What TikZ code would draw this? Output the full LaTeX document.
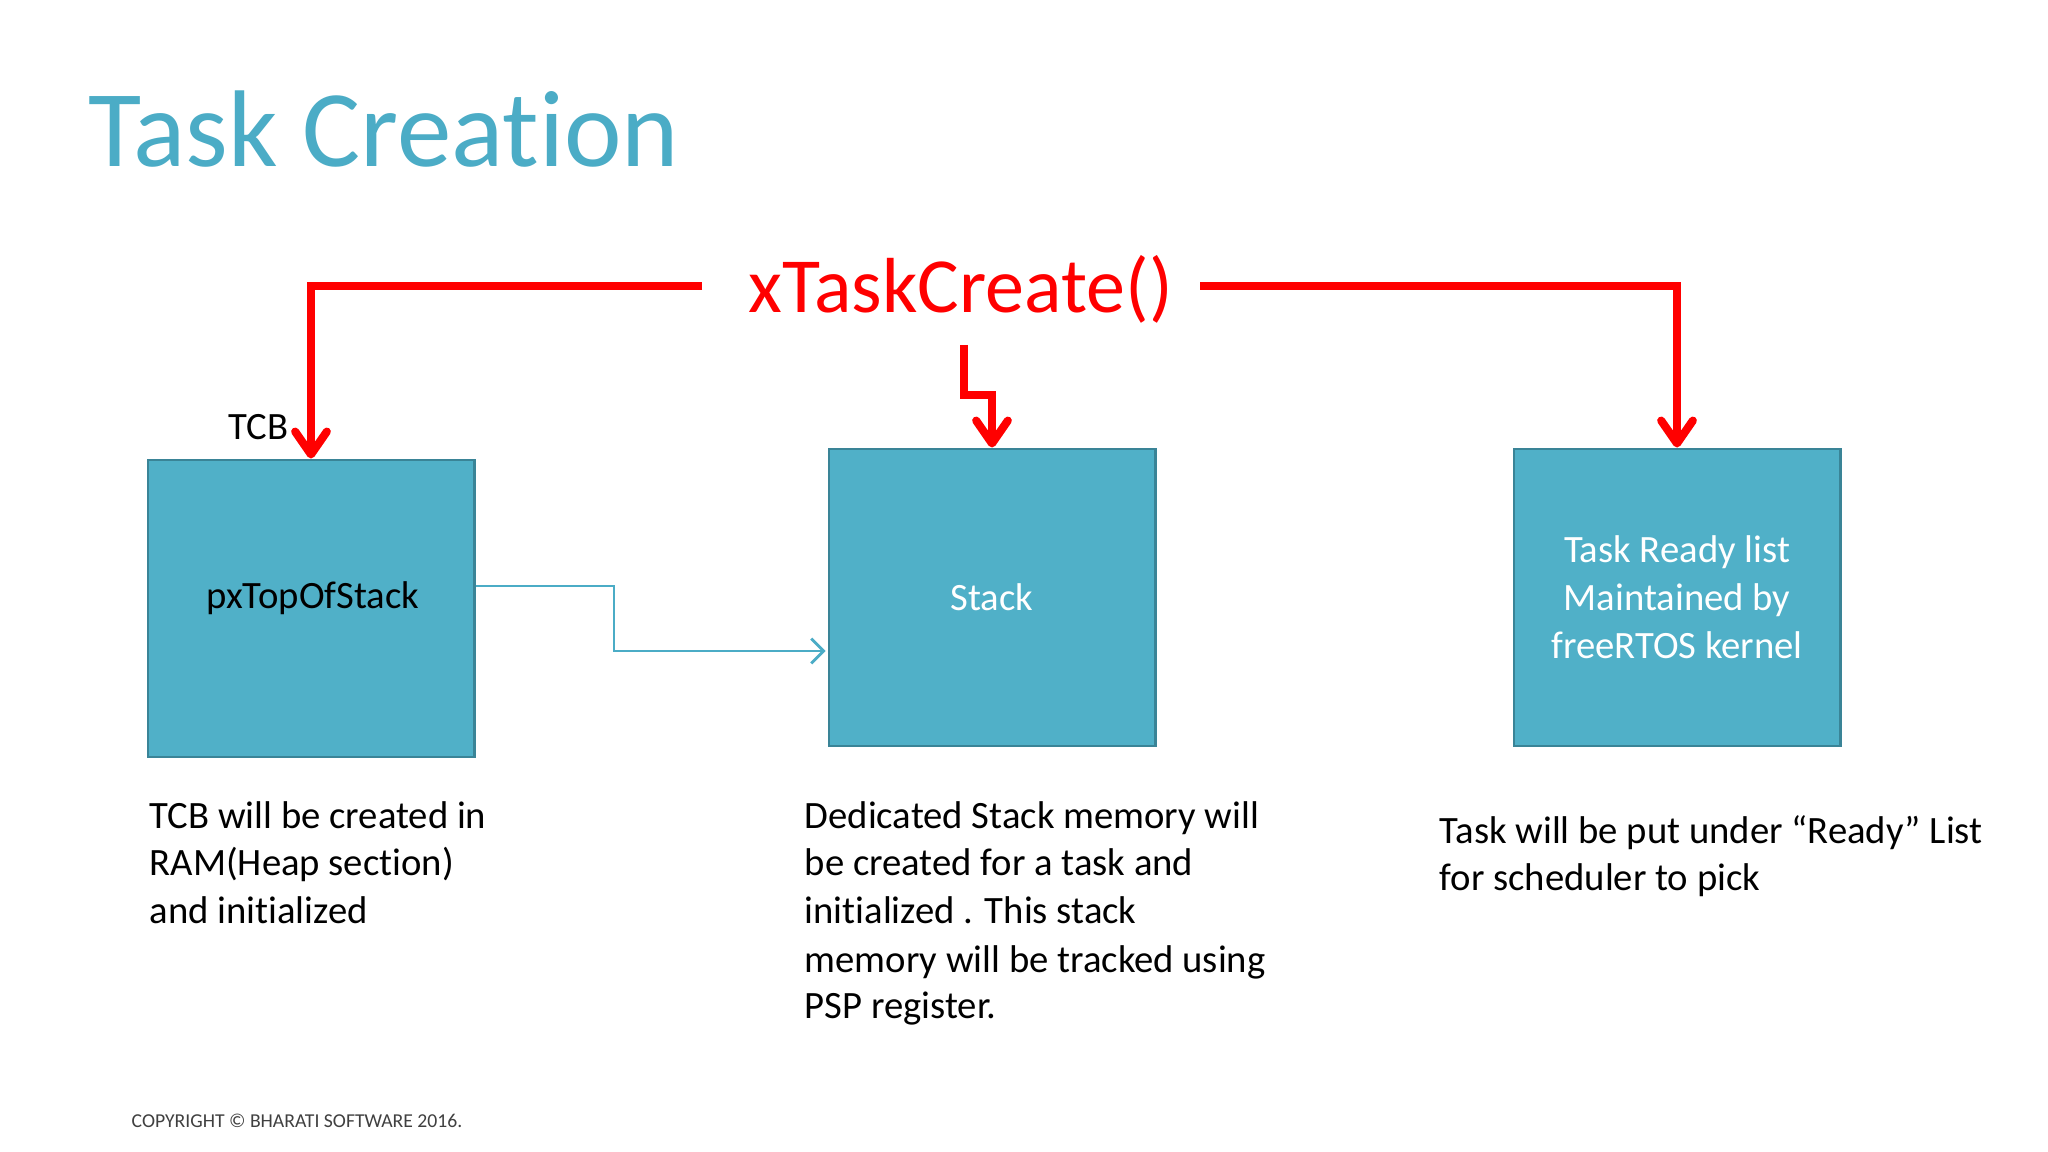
\documentclass[tikz,border=0pt]{standalone}
\usepackage{fontspec}
\setmainfont{Carlito}[Ligatures=NoCommon]
\usetikzlibrary{arrows.meta,calc}
\definecolor{accent}{HTML}{4BACC6}
\definecolor{boxfill}{HTML}{50B0C8}
\definecolor{boxline}{HTML}{3A8497}
\definecolor{copygray}{HTML}{404040}
\tikzset{
  taskbox/.style={draw=boxline, line width=0.8pt, fill=boxfill, minimum width=3.26cm, minimum height=2.97cm, inner sep=0pt, font=\fontsize{11}{13.6}\selectfont, text=white, align=center},
  redarrow/.style={draw=red, line width=2.3pt, -{Straight Barb[length=6.5pt,width=9pt,round]}},
  tealarrow/.style={draw=accent, line width=0.8pt, -{Straight Barb[length=3.5pt,width=7pt]}},
  bodytext/.style={anchor=base west, inner sep=0pt, font=\fontsize{11}{13.6}\selectfont, text=black},
}
\begin{document}
\begin{tikzpicture}[x=0.01cm,y=-0.01cm]
\useasboundingbox[fill=white] (0,0) rectangle (2048,1152);

% title
\node[anchor=base west, inner sep=0pt, text=accent, font=\fontsize{31}{37}\selectfont] (title) at (88,167) {Task Creation};

% function name
\node[anchor=base west, inner sep=0pt, text=red, font=\fontsize{22.2}{27}\selectfont] (xtc) at (748,313) {xTaskCreate()};

% boxes
\node[taskbox] (tcb) at (311,608.5) {};
\node[taskbox] (stack) at (992,597.5) {Stack};
\node[taskbox] (ready) at (1677,597.5) {Task Ready list\\Maintained by\\freeRTOS kernel};

\node[anchor=base, inner sep=0pt, font=\fontsize{11}{13.6}\selectfont, text=black] (ptos) at (313,609) {pxTopOfStack};
\node[anchor=base east, inner sep=0pt, font=\fontsize{11}{13.6}\selectfont, text=black] (tcblabel) at (289,440) {TCB};

% red connectors
\coordinate (l0) at (702,286);
\coordinate (r0) at (1200,286);
\coordinate (m0) at (964,345);
\draw[redarrow] (l0) -| (tcb.north);
\draw[redarrow] (r0) -| (ready.north);
\draw[redarrow] (m0) -- (964,395) -- (992,395) -- (stack.north);

% teal connector
\draw[tealarrow] ($(tcb.east)+(0,-22.5)$) -- (614,586) |- ($(stack.west)+(-2,53.5)$);

% descriptions
\node[bodytext] (d1a) at (149,828) {TCB will be created in};
\node[bodytext] (d1b) at (149,875) {RAM(Heap section)};
\node[bodytext] (d1c) at (149,923) {and initialized};

\node[bodytext] (d2a) at (804,828) {Dedicated Stack memory will};
\node[bodytext] (d2b) at (804,875) {be created for a task and};
\node[bodytext] (d2c) at (804,923) {initialized . This stack};
\node[bodytext] (d2d) at (804,972) {memory will be tracked using};
\node[bodytext] (d2e) at (804,1018) {PSP register.};

\node[bodytext] (d3a) at (1439,843) {Task will be put under “Ready” List};
\node[bodytext] (d3b) at (1439,890) {for scheduler to pick};

% copyright
\node[anchor=base west, inner sep=0pt, text=copygray, font=\fontsize{5.6}{6.7}\selectfont] (copy) at (131,1127) {COPYRIGHT © BHARATI SOFTWARE 2016.};
\end{tikzpicture}
\end{document}
